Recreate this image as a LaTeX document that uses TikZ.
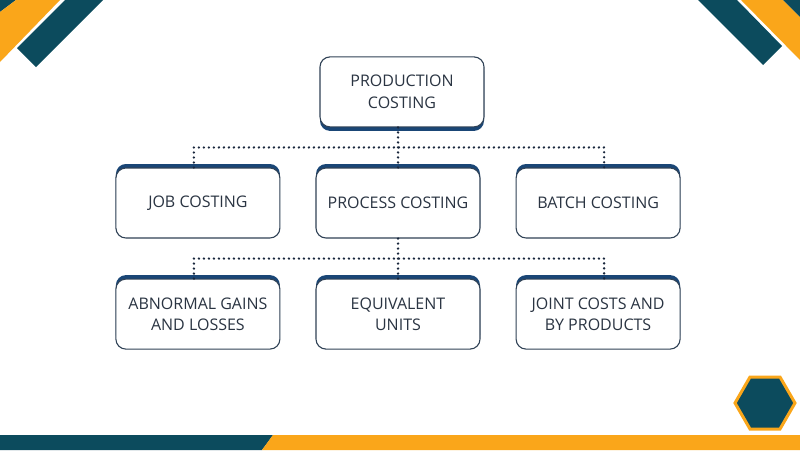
\documentclass[tikz,border=0pt]{standalone}
\usepackage{fontspec}
\setmainfont{Open Sans}
\usetikzlibrary{positioning,shadows,calc}
\definecolor{brandteal}{RGB}{12,75,93}
\definecolor{brandorange}{RGB}{250,166,26}
\definecolor{rimnavy}{RGB}{26,70,118}
\definecolor{edgegray}{RGB}{48,66,86}
\definecolor{inkgray}{RGB}{42,52,66}
\definecolor{dotnavy}{RGB}{24,38,60}
\begin{document}
\begin{tikzpicture}[
  x=1pt,y=-1pt,
  node distance=40pt and 35pt,
  box/.style={draw=edgegray,line width=1.1pt,rounded corners=10pt,fill=white,
              minimum width=164pt,minimum height=70pt,align=center,
              text=inkgray,font=\fontsize{16}{21.5}\selectfont},
  rimtop/.style={general shadow={fill=rimnavy,shadow yshift=4pt}},
  rimbot/.style={general shadow={fill=rimnavy,shadow yshift=-4pt}},
  dots/.style={dotnavy,line width=2.6pt,line cap=round,dash pattern=on 0pt off 5pt}
]
\fill[white] (0,0) rectangle (800,450);

% corner bands
\fill[brandteal] (0,0) -- (16,0) -- (0,12) -- cycle;
\fill[brandorange] (16,0) -- (60,0) -- (0,62) -- (0,12) -- cycle;
\fill[brandteal] (65,0) -- (103,0) -- (36,67) -- (17,48) -- cycle;
\fill[brandteal] (698,0) -- (737,0) -- (782,46) -- (763,65) -- cycle;
\fill[brandorange] (741,0) -- (783,0) -- (800,17) -- (800,60) -- cycle;
\fill[brandteal] (783,0) -- (800,0) -- (800,17) -- cycle;
\fill[brandteal] (0,435) -- (273,435) -- (262,450) -- (0,450) -- cycle;
\fill[brandorange] (273,435) -- (800,435) -- (800,450) -- (262,450) -- cycle;
\draw[brandorange,line width=3pt,fill=brandteal]
  (795,403) -- (780,377) -- (750,377) -- (735,403) -- (750,429) -- (780,429) -- cycle;

\node[box,rimtop] (proc) at (398,203) {PROCESS COSTING};
\node[box,rimtop,left=of proc] (job) {JOB COSTING};
\node[box,rimtop,right=of proc] (batch) {BATCH COSTING};
\node[box,rimbot,above=of proc,xshift=4pt] (prod) {PRODUCTION\\COSTING};

\node[box,rimtop,below=of job] (abn) {ABNORMAL GAINS\\AND LOSSES};
\node[box,rimtop,below=of proc] (equiv) {EQUIVALENT\\UNITS};
\node[box,rimtop,below=of batch] (joint) {JOINT COSTS AND\\BY PRODUCTS};

\coordinate (hubA) at ($(proc.north)!0.5!(proc.north |- prod.south)$);
\coordinate (hubB) at ($(proc.south)!0.5!(equiv.north)$);

\draw[dots] (proc.north |- prod.south) -- (proc.north);
\draw[dots] ([xshift=-4pt]job.north) |- (hubA) -| ([xshift=6pt]batch.north);
\draw[dots] (proc.south) -- (equiv.north);
\draw[dots] ([xshift=-4pt]abn.north) |- (hubB) -| ([xshift=6pt]joint.north);
\end{tikzpicture}
\end{document}
